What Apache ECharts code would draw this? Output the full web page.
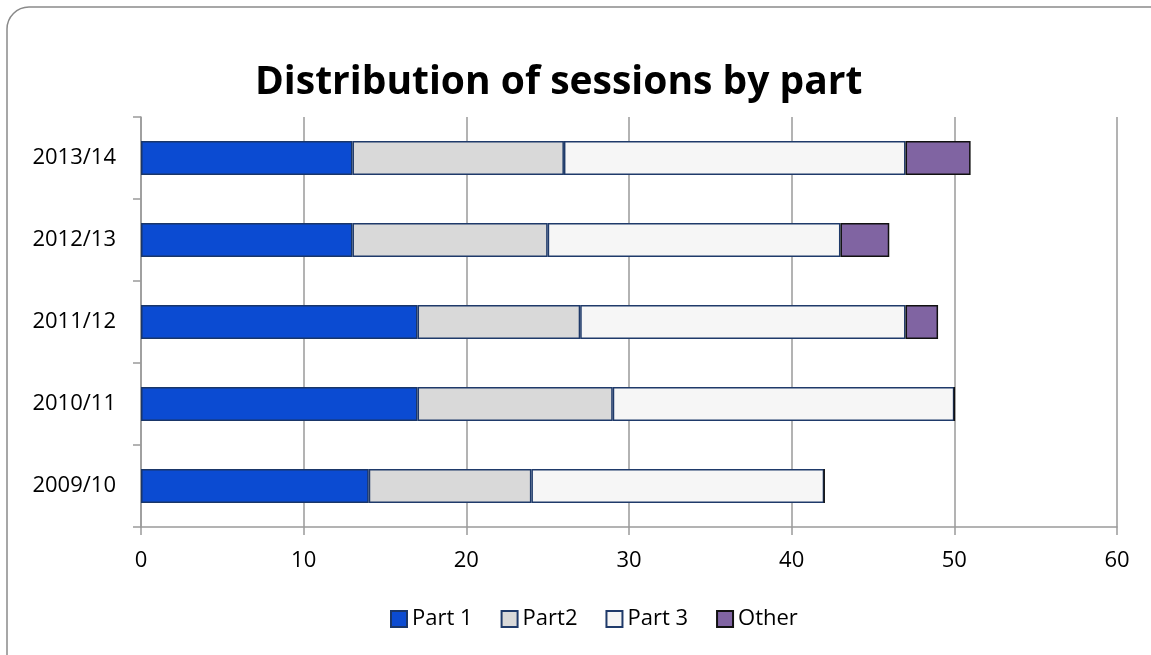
<!DOCTYPE html>
<html>
<head>
<meta charset="utf-8">
<script src="https://cdn.jsdelivr.net/npm/echarts@6/dist/echarts.min.js"></script>
<style>
  html, body { margin: 0; padding: 0; background: #fff; }
  #chart { width: 1151px; height: 655px; }
</style>
</head>
<body>
<div id="chart"></div>
<script>
// Academic years, bottom to top
const years = ['2009/10', '2010/11', '2011/12', '2012/13', '2013/14'];

// Sessions per part for each year
const part1 = [14, 17, 17, 13, 13];
const part2 = [10, 12, 10, 12, 13];
const part3 = [18, 21, 20, 18, 21];
const other = [0, 0, 2, 3, 4];

const xTicks = [0, 10, 20, 30, 40, 50, 60];

const FONT = '"Open Sans", "Liberation Sans", sans-serif';

const chart = echarts.init(document.getElementById('chart'));

function barSeries(name, data, fill, border) {
  return {
    name: name,
    type: 'bar',
    stack: 'total',
    data: data,
    barWidth: 34,
    itemStyle: { color: fill, borderColor: border, borderWidth: 1.5 }
  };
}

chart.setOption({
  animation: false,
  graphic: [{
    type: 'rect',
    shape: { x: 7, y: 7, width: 1170, height: 670, r: 22 },
    style: { fill: 'none', stroke: '#8a8a8a', lineWidth: 1.5 },
    z: 0
  }],
  title: {
    text: 'Distribution of sessions by part',
    left: 250,
    top: 58,
    textStyle: { fontFamily: FONT, fontSize: 39, fontWeight: 'bold', color: '#000' }
  },
  legend: {
    bottom: 20,
    left: 385,
    itemWidth: 16,
    itemHeight: 16,
    itemGap: 28,
    icon: 'rect',
    textStyle: { fontFamily: FONT, fontSize: 22, color: '#000' },
    data: ['Part 1', 'Part2', 'Part 3', 'Other']
  },
  grid: { left: 141, right: 34, top: 117, bottom: 128, containLabel: false },
  xAxis: {
    type: 'value',
    min: xTicks[0],
    max: xTicks[xTicks.length - 1],
    interval: 10,
    axisLine: { show: true, lineStyle: { color: '#9a9a9a', width: 1.5 } },
    axisTick: { show: true, length: 8, lineStyle: { color: '#9a9a9a', width: 1.5 } },
    splitLine: { show: true, lineStyle: { color: '#9a9a9a', width: 1.5 } },
    axisLabel: { fontFamily: FONT, fontSize: 22, color: '#000', margin: 23 }
  },
  yAxis: {
    type: 'category',
    data: years,
    axisLine: { show: true, lineStyle: { color: '#9a9a9a', width: 1.5 } },
    axisTick: { show: true, length: 8, lineStyle: { color: '#9a9a9a', width: 1.5 } },
    axisLabel: { fontFamily: FONT, fontSize: 22, color: '#000', margin: 25 },
    splitLine: { show: false }
  },
  series: [
    barSeries('Part 1', part1, '#0b4bd2', '#1a3668'),
    barSeries('Part2', part2, '#d9d9d9', '#1f3a6a'),
    barSeries('Part 3', part3, '#f6f6f6', '#1f3a6a'),
    barSeries('Other', other, '#8064a2', '#111111')
  ]
});
</script>
</body>
</html>
